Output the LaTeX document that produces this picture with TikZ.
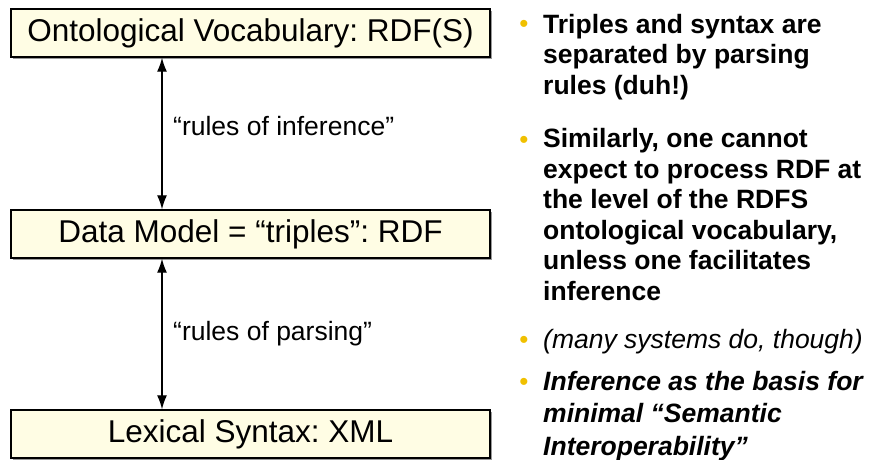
\documentclass[tikz,border=0pt]{standalone}
\usepackage{fontspec}
\setmainfont{Liberation Sans}
\frenchspacing
\usetikzlibrary{arrows.meta,shadows}
\definecolor{boxfill}{HTML}{FFFDE4}
\definecolor{bulletgold}{HTML}{F0C000}
\tikzset{
  layer/.style={draw=black,line width=1.4pt,fill=boxfill,minimum width=479pt,minimum height=48pt,
    inner sep=0pt,font=\fontsize{31.5}{34}\selectfont,
    drop shadow={shadow xshift=1.5pt,shadow yshift=-1.5pt,fill=gray!80,opacity=1}},
  rulelabel/.style={anchor=base west,inner sep=0pt,font=\fontsize{26.5}{29}\selectfont},
  pointtext/.style={anchor=base west,inner sep=0pt,align=left,font=\fontsize{26.5}{30.5}\selectfont\bfseries},
  dot/.style={anchor=base,inner sep=0pt,text=bulletgold,font=\fontsize{26}{28}\selectfont},
  link/.style={line width=1.3pt,{Latex[length=14pt,width=10pt]}-{Latex[length=14pt,width=10pt]}}
}
\begin{document}
\begin{tikzpicture}[x=1pt,y=-1pt]
    \useasboundingbox (0,0) rectangle (871,459);
    % the three layers
    \node [layer] (onto) at (250.5,33)  {Ontological Vocabulary: RDF(S)};
    \node [layer] (data) at (250.5,234) {Data Model = “triples”: RDF};
    \node [layer] (lex)  at (250.5,434) {Lexical Syntax: XML};
    \coordinate (ax) at (162,0);
    \draw [link] (onto.south -| ax) -- (data.north -| ax);
    \draw [link] (data.south -| ax) -- (lex.north -| ax);
    \node [rulelabel] (inf) at (173,135) {“rules of inference”};
    \node [rulelabel] (par) at (173,340) {“rules of parsing”};
    % bullet points (base = last line)
    \node [dot] (b1) at (524,32)  {•};
    \node [dot] (b2) at (524,148) {•};
    \node [dot] (b3) at (524,348) {•};
    \node [dot] (b4) at (524,390) {•};
    \node [pointtext] (p1) at (543,94)  {Triples and syntax are\\separated by parsing\\rules (duh!)};
    \node [pointtext] (p2) at (543,300) {Similarly, one cannot\\expect to process RDF at\\the level of the RDFS\\ontological vocabulary,\\unless one facilitates\\inference};
    \node [pointtext,font=\fontsize{26.5}{30.5}\selectfont\itshape] (p3) at (543,348) {(many systems do, though)};
    \node [pointtext,font=\fontsize{26.5}{32.5}\selectfont\bfseries\itshape] (p4) at (543,455) {Inference as the basis for\\minimal “Semantic\\Interoperability”};
\end{tikzpicture}
\end{document}
